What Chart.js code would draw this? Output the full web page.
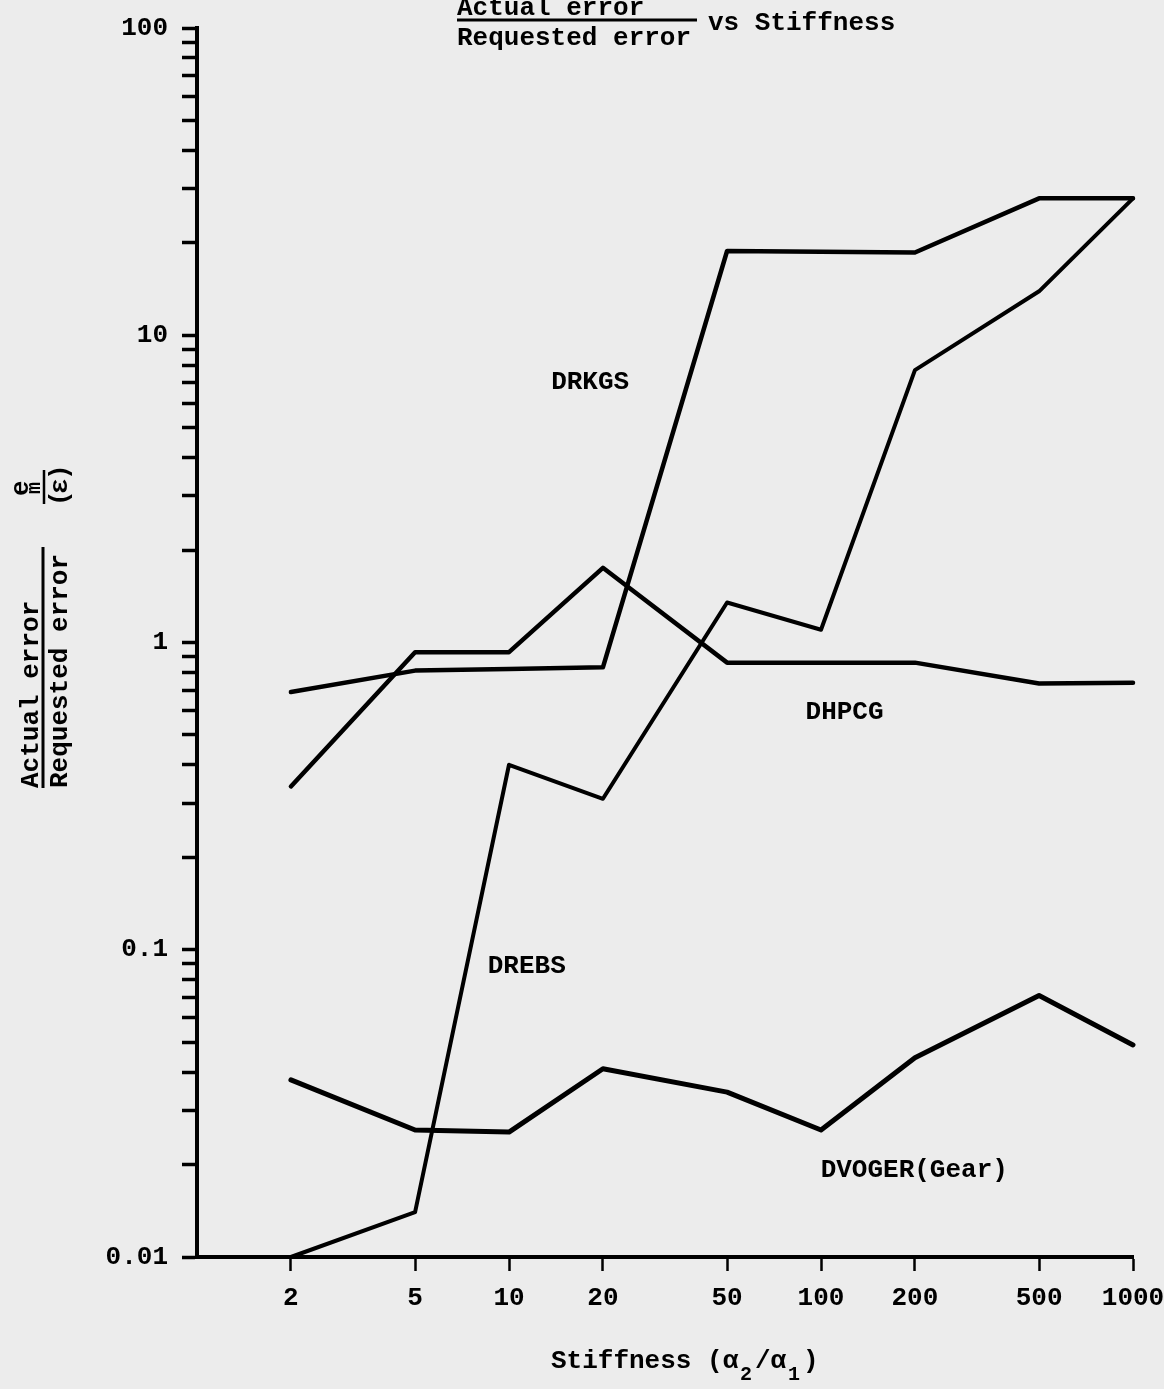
<!DOCTYPE html>
<html>
<head>
<meta charset="utf-8">
<script src="https://cdn.jsdelivr.net/npm/chart.js@4/dist/chart.umd.min.js"></script>
<style>
  body { margin: 0; background: #ececec; }
  #wrap { width: 1164px; height: 1389px; position: relative; }
</style>
</head>
<body>
<div id="wrap"><canvas id="chart"></canvas></div>
<script>
// stiffness values (x) and the four methods (y)
const stiffness = [2, 5, 10, 20, 50, 100, 200, 500, 1000];
const drkgs  = [0.69, 0.81, 0.82, 0.83, 18.8, 18.7, 18.6, 27.9, 27.9];
const dhpcg  = [0.34, 0.93, 0.93, 1.75, 0.86, 0.86, 0.86, 0.735, 0.74];
const drebs  = [0.01, 0.014, 0.40, 0.31, 1.35, 1.10, 7.7, 13.9, 27.9];
const dvoger = [0.0377, 0.0259, 0.0255, 0.041, 0.0344, 0.0259, 0.0445, 0.071, 0.049];

const xTickValues = [2, 5, 10, 20, 50, 100, 200, 500, 1000];
const yTickValues = [0.01, 0.1, 1, 10, 100];
const yTickLabels = ['0.01', '0.1', '1', '10', '100'];
const yMinorSteps = [2, 3, 4, 5, 6, 7, 8, 9];

// curve names written on the plot, with where they sit (data units)
const labelNames = ['DRKGS', 'DHPCG', 'DREBS', 'DVOGER(Gear)'];
const labelX = [18.2, 119, 11.4, 199];
const labelY = [7.0, 0.59, 0.088, 0.0192];

const FONT = 'bold 26px "Liberation Mono", "DejaVu Sans Mono", monospace';
const SMALL = 'bold 20px "Liberation Mono", "DejaVu Sans Mono", monospace';

function series(values) {
    return values.map((v, i) => ({ x: stiffness[i], y: v }));
}

function line(values, width) {
    return {
        data: series(values),
        borderColor: '#000',
        borderWidth: width,
        pointRadius: 0,
        tension: 0,
        borderJoinStyle: 'round',
        borderCapStyle: 'round',
        clip: 6
    };
}

const textPlugin = {
    id: 'texts',
    afterDraw(chart) {
        const ctx = chart.ctx;
        const xs = chart.scales.x, ys = chart.scales.y;
        ctx.save();
        ctx.fillStyle = '#000';
        ctx.strokeStyle = '#000';

        // curve labels
        ctx.font = FONT;
        ctx.textAlign = 'center';
        ctx.textBaseline = 'middle';
        labelNames.forEach((name, i) => {
            ctx.fillText(name, xs.getPixelForValue(labelX[i]), ys.getPixelForValue(labelY[i]));
        });

        // title: fraction vs Stiffness
        ctx.textAlign = 'left';
        ctx.textBaseline = 'alphabetic';
        ctx.fillText('Actual error', 457, 15);
        ctx.fillText('Requested error', 457, 45);
        ctx.fillText('vs Stiffness', 708, 30);
        ctx.lineWidth = 3;
        ctx.beginPath(); ctx.moveTo(457, 20); ctx.lineTo(697, 20); ctx.stroke();

        // x axis title
        ctx.fillText('Stiffness (\u03b1', 551, 1368);
        ctx.fillText('/\u03b1', 755, 1368);
        ctx.fillText(')', 803, 1368);
        ctx.font = SMALL;
        ctx.fillText('2', 740, 1380);
        ctx.fillText('1', 788, 1380);

        // y axis title, rotated
        ctx.translate(0, 788);
        ctx.rotate(-Math.PI / 2);
        ctx.font = FONT;
        ctx.fillText('Actual error', 0, 38);
        ctx.fillText('Requested error', 0, 67);
        ctx.beginPath(); ctx.moveTo(0, 43); ctx.lineTo(241, 43); ctx.stroke();
        ctx.fillText('(', 282, 67);
        ctx.fillText('\u03b5', 294, 67);
        ctx.fillText(')', 308, 67);
        ctx.fillText('e', 292, 28);
        ctx.font = SMALL;
        ctx.fillText('m', 294, 40);
        ctx.lineWidth = 2.5;
        ctx.beginPath(); ctx.moveTo(284, 44); ctx.lineTo(318, 44); ctx.stroke();
        ctx.restore();
    }
};

new Chart(document.getElementById('chart').getContext('2d'), {
    type: 'line',
    data: {
        datasets: [line(drkgs, 4.5), line(dhpcg, 4.5), line(drebs, 4), line(dvoger, 5)]
    },
    options: {
        responsive: true,
        maintainAspectRatio: false,
        animation: false,
        layout: { padding: { top: 28, right: 31, left: 0, bottom: 0 } },
        plugins: { legend: { display: false }, tooltip: { enabled: false } },
        scales: {
            x: {
                type: 'logarithmic',
                min: 1,
                max: 1000,
                afterBuildTicks: s => { s.ticks = xTickValues.map(v => ({ value: v })); },
                afterFit: s => { s.height = 132; s.paddingLeft = 0; s.paddingRight = 0; },
                border: { display: true, color: '#000', width: 4 },
                grid: { drawOnChartArea: false, drawTicks: true, tickLength: 14, tickWidth: 2.5, tickColor: '#000', color: '#000' },
                ticks: {
                    autoSkip: false,
                    maxRotation: 0,
                    padding: 12,
                    color: '#000',
                    font: { family: '"Liberation Mono", monospace', size: 26, weight: 'bold' },
                    callback: v => String(v)
                }
            },
            y: {
                type: 'logarithmic',
                min: 0.01,
                max: 100,
                afterBuildTicks: s => {
                    const t = [];
                    yTickValues.forEach((d, i) => {
                        t.push({ value: d });
                        if (i < yTickValues.length - 1) yMinorSteps.forEach(k => t.push({ value: d * k }));
                    });
                    s.ticks = t;
                },
                afterFit: s => { s.width = 197; s.paddingTop = 0; s.paddingBottom = 0; },
                border: { display: true, color: '#000', width: 4 },
                grid: { drawOnChartArea: false, drawTicks: true, tickLength: 15, tickWidth: 3.5, tickColor: '#000', color: '#000' },
                ticks: {
                    autoSkip: false,
                    padding: 14,
                    color: '#000',
                    font: { family: '"Liberation Mono", monospace', size: 26, weight: 'bold' },
                    callback: v => {
                        const i = yTickValues.findIndex(m => Math.abs(m - v) / m < 1e-6);
                        return i >= 0 ? yTickLabels[i] : '';
                    }
                }
            }
        }
    },
    plugins: [textPlugin]
});
</script>
</body>
</html>
